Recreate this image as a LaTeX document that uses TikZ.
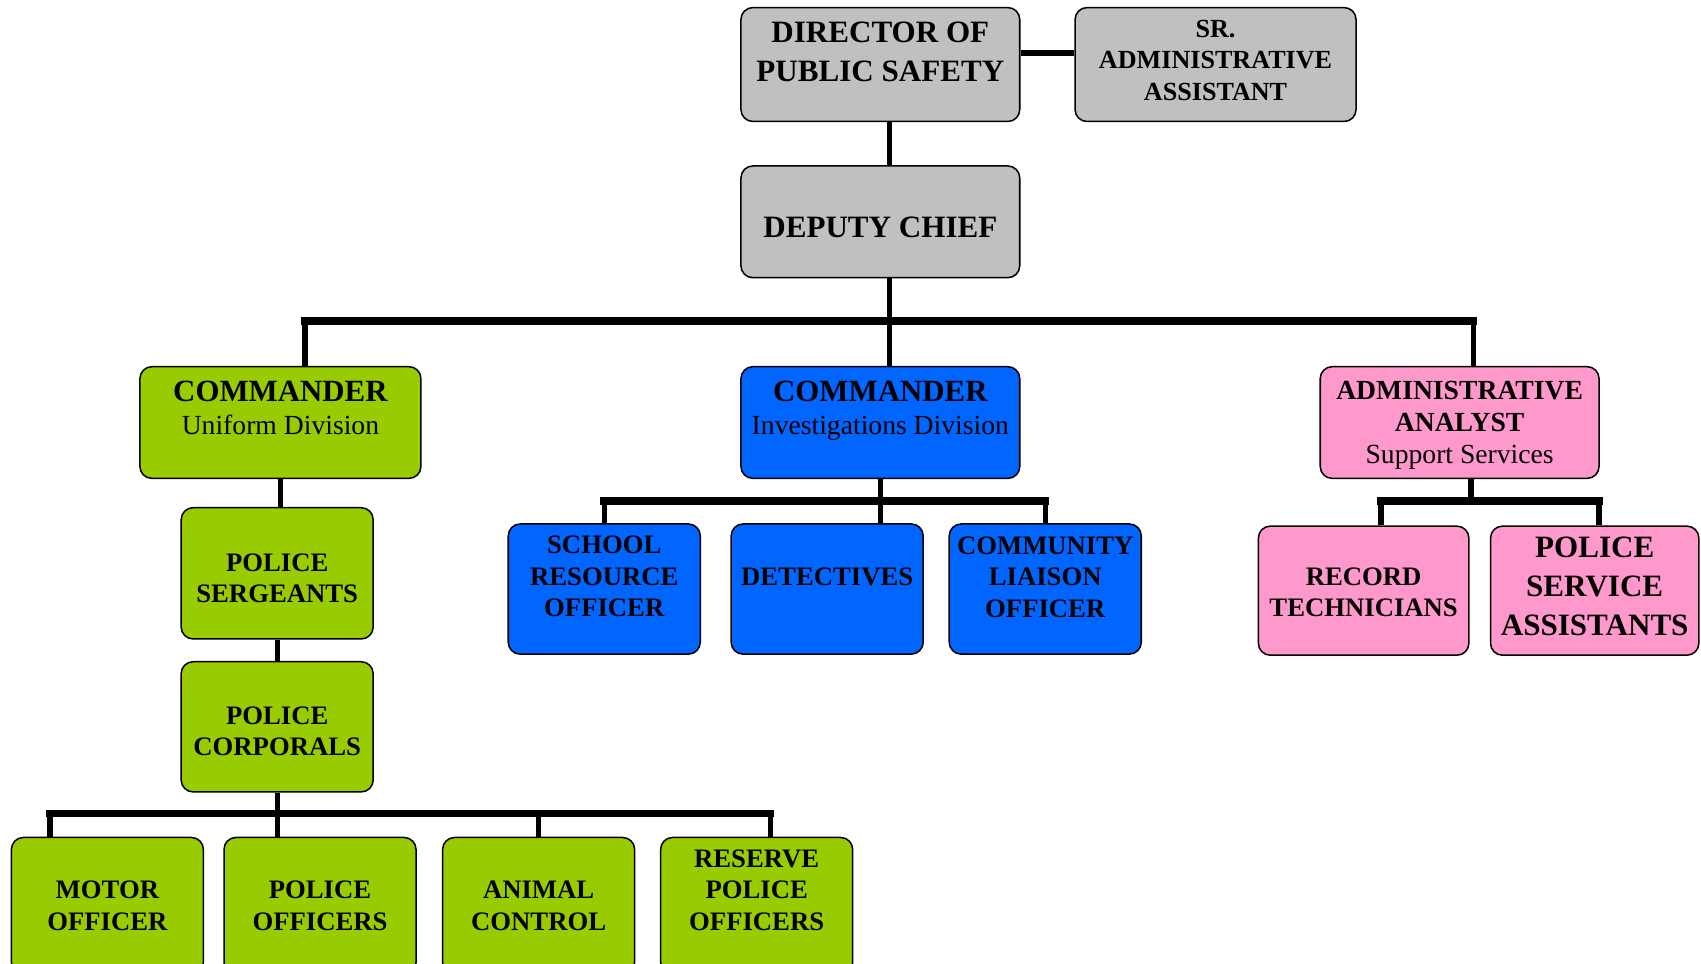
\documentclass[tikz,border=0pt]{standalone}
\usepackage{fontspec}
\setmainfont{Liberation Serif}
\definecolor{boxgrey}{HTML}{C0C0C0}
\definecolor{boxgreen}{HTML}{99CC00}
\definecolor{boxblue}{HTML}{0066FF}
\definecolor{boxpink}{HTML}{FF99CC}
\newcommand{\divname}[1]{{\mdseries\fontsize{14.5}{17}\selectfont #1}}
\tikzset{
  box/.style={draw, rounded corners=2.2mm, line width=0.8pt, inner sep=0pt},
  greybox/.style={box, fill=boxgrey},
  greenbox/.style={box, fill=boxgreen},
  bluebox/.style={box, fill=boxblue},
  pinkbox/.style={box, fill=boxpink},
  wide/.style={minimum width=5.14cm, minimum height=2.06cm},
  unit/.style={minimum width=3.54cm, minimum height=2.4cm},
  low/.style={unit, minimum height=2.52cm},
  title/.style={align=center, inner sep=0pt, font=\bfseries\fontsize{16.3}{20.5}\selectfont},
  head/.style={align=center, inner sep=0pt, font=\bfseries\fontsize{16.2}{17}\selectfont},
  anafont/.style={align=center, inner sep=0pt, font=\bfseries\fontsize{14.5}{17}\selectfont},
  srfont/.style={align=center, inner sep=0pt, font=\bfseries\fontsize{13.7}{16.5}\selectfont},
  lbl/.style={align=center, inner sep=0pt, font=\bfseries\fontsize{14}{16.5}\selectfont},
  link/.style={line width=2.8pt},
  bus/.style={line width=4pt, line cap=rect}
}

\begin{document}
\begin{tikzpicture}
\path[use as bounding box, clip] (0,0) rectangle (31.36,17.76);

% boxes
\node[greybox, wide, minimum height=2.1cm] (dir) at (16.23,16.57) {};
\node[greybox, wide, minimum width=5.18cm, minimum height=2.1cm] (sr) at (22.41,16.57) {};
\node[greybox, wide] (dep) at (16.23,13.67) {};
\node[greenbox, wide, minimum width=5.18cm] (cmdu) at (5.17,9.97) {};
\node[bluebox, wide] (cmdi) at (16.23,9.97) {};
\node[pinkbox, wide] (ana) at (26.91,9.97) {};
\node[greenbox, unit, minimum height=2.42cm] (serg) at (5.11,7.19) {};
\node[greenbox, unit] (corp) at (5.11,4.36) {};
\node[bluebox, unit] (sro) at (11.14,6.90) {};
\node[bluebox, unit] (det) at (15.25,6.90) {};
\node[bluebox, unit] (cli) at (19.27,6.90) {};
\node[pinkbox, unit, minimum width=3.88cm, minimum height=2.38cm] (rec) at (25.14,6.87) {};
\node[pinkbox, unit, minimum width=3.84cm, minimum height=2.38cm] (psa) at (29.40,6.87) {};
\node[greenbox, low] (motor) at (1.98,1.06) {};
\node[greenbox, low] (pof) at (5.90,1.06) {};
\node[greenbox, low] (ani) at (9.93,1.06) {};
\node[greenbox, low] (res) at (13.95,1.06) {};

% top of the tree
\coordinate (tl) at (5.62,11.84);
\coordinate (tm) at (16.40,11.84);
\coordinate (tr) at (27.16,11.84);
\draw[link] ([yshift=2.1mm]dir.east) -- ([yshift=2.1mm]sr.west);
\draw[link] (tm |- dir.south) -- (tm |- dep.north);
\draw[link] (tm |- dep.south) -- (tm |- cmdi.north);
\draw[bus] (tl) -- (tr);
\draw[link] (tl) -- (tl |- cmdu.north);
\draw[link] (tr) -- (tr |- ana.north);

% uniform division
\coordinate (ul) at (0.92,2.76);
\coordinate (ur) at (14.20,2.76);
\draw[link] (cmdu.south) -- (cmdu.south |- serg.north);
\draw[link] (serg) -- (corp);
\draw[link] (corp.south) -- (corp.south |- pof.north);
\draw[bus] (ul) -- (ur);
\draw[link] (ul) -- (ul |- motor.north);
\draw[link] (ani.north |- ul) -- (ani.north);
\draw[link] (ur) -- (ur |- res.north);

% investigations division
\coordinate (il) at (11.14,8.52);
\coordinate (ir) at (19.27,8.52);
\draw[link] (cmdi.south) -- (cmdi.south |- det.north);
\draw[bus] (il) -- (ir);
\draw[link] (il) -- (sro.north);
\draw[link] (ir) -- (cli.north);

% support services
\coordinate (al) at (25.46,8.52);
\coordinate (ar) at (29.48,8.52);
\draw[link] ([xshift=2.1mm]ana.south) -- ([xshift=2.1mm]ana.south |- al);
\draw[bus] (al) -- (ar);
\draw[link] (al) -- (al |- rec.north);
\draw[link] (ar) -- (ar |- psa.north);

% texts
\node[title] (dir-t) at ([yshift=2.3mm]dir.center) {DIRECTOR OF\\PUBLIC SAFETY};
\node[srfont] (sr-t) at ([yshift=0.8mm]sr.center) {SR.\\ADMINISTRATIVE\\ASSISTANT};
\node[title] (dep-t) at ([yshift=-1mm]dep.center) {DEPUTY CHIEF};
\node[head] (cmdu-t) at ([yshift=2.7mm]cmdu.center) {COMMANDER\\\divname{Uniform Division}};
\node[head] (cmdi-t) at ([yshift=2.2mm]cmdi.center) {COMMANDER\\\divname{Investigations Division}};
\node[anafont] (ana-t) at ([yshift=-0.5mm]ana.center) {ADMINISTRATIVE\\ANALYST\\\divname{Support Services}};
\node[lbl] (serg-t) at ([yshift=-0.9mm]serg.center) {POLICE\\SERGEANTS};
\node[lbl] (corp-t) at ([yshift=-0.8mm]corp.center) {POLICE\\CORPORALS};
\node[lbl] (sro-t) at ([yshift=2.3mm]sro.center) {SCHOOL\\RESOURCE\\OFFICER};
\node[lbl] (det-t) at ([yshift=2.2mm]det.center) {DETECTIVES};
\node[lbl] (cli-t) at ([yshift=2.2mm]cli.center) {COMMUNITY\\LIAISON\\OFFICER};
\node[lbl] (rec-t) at ([yshift=-0.3mm]rec.center) {RECORD\\TECHNICIANS};
\node[title] (psa-t) at ([yshift=0.8mm]psa.center) {POLICE\\SERVICE\\ASSISTANTS};
\node[lbl] (motor-t) at (motor.center) {MOTOR\\OFFICER};
\node[lbl] (pof-t) at (pof.center) {POLICE\\OFFICERS};
\node[lbl] (ani-t) at (ani.center) {ANIMAL\\CONTROL};
\node[lbl] (res-t) at ([yshift=2.9mm]res.center) {RESERVE\\POLICE\\OFFICERS};
\end{tikzpicture}
\end{document}
